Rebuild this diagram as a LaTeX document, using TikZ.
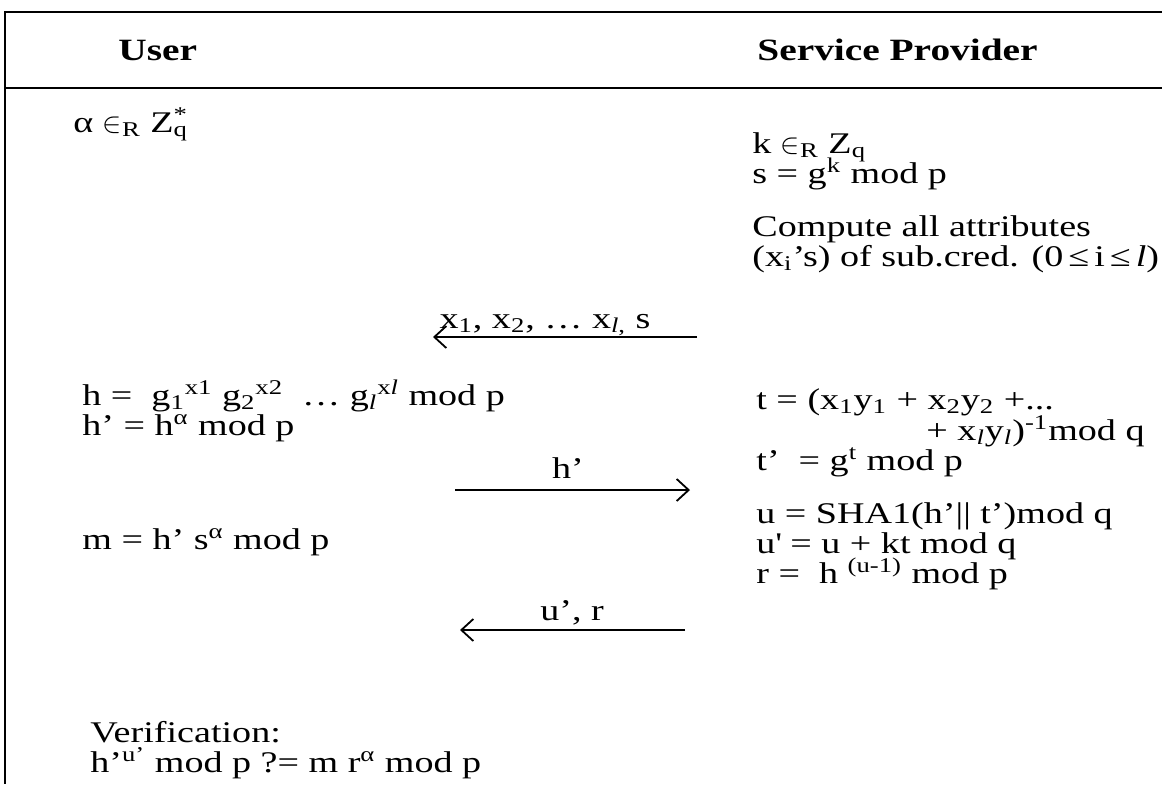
\documentclass[tikz,border=0pt]{standalone}
\usepackage{fontspec}
\setmainfont{Liberation Serif}[FakeStretch=1.27]
\usetikzlibrary{arrows.meta}
\newcommand{\up}[1]{\textsuperscript{#1}}
\newcommand{\dn}[1]{\textsubscript{#1}}
\newcommand{\supsub}[2]{\makebox[0pt][l]{\textsuperscript{#1}}\textsubscript{#2}}
\newcommand{\el}{\textit{l}}

\begin{document}
\begin{tikzpicture}[x=0.5pt,y=-0.5pt,font=\fontsize{15}{18}\selectfont,
  >={Straight Barb[length=6pt,width=11pt]},
  txt/.style={anchor=base west,inner sep=0pt},
  head/.style={txt,font=\fontsize{15.5}{18}\selectfont\bfseries},
  lbl/.style={anchor=base,inner sep=0pt},
  msg/.style={->,line width=0.9pt}]
  \useasboundingbox (0,0) rectangle (1162,784);
  % frame
  \draw[line width=1.4pt] (1162,12) -- (5,12) -- (5,784);
  \draw[line width=1.4pt] (5,88) -- (1162,88);
  \node[head] (user) at (118,60) {User};
  \node[head] (sp) at (757,60) {Service Provider};
  % user side
  \node[txt] (alpha) at (73,132) {α $\in$\dn{R} Z\supsub{*}{q}};
  \node[txt] (hdef) at (82,405) {h =\ \ g\dn{1}\up{x1} g\dn{2}\up{x2}\ \ … g\dn{\el}\up{x\el} mod p};
  \node[txt] (hpr) at (82,435) {h’ = h\up{α} mod p};
  \node[txt] (mdef) at (82,549) {m = h’ s\up{α} mod p};
  \node[txt] (verif) at (90,742) {Verification:};
  \node[txt] (check) at (90,772) {h’\up{u’} mod p ?= m r\up{α} mod p};
  % provider side
  \node[txt] (kdef) at (752,153) {k $\in$\dn{R} Z\dn{q}};
  \node[txt] (sdef) at (752,183) {s = g\up{k} mod p};
  \node[txt] (comp) at (752,236) {Compute all attributes};
  \node[txt] (attr) at (752,266) {(x\dn{i}’s) of sub.cred. (0\,≤\,i\,≤\,\el)};
  \node[txt] (tdef) at (756,409) {t = (x\dn{1}y\dn{1} + x\dn{2}y\dn{2} +...};
  \node[txt,anchor=base east] (tcont) at (1145,440) {+ x\dn{\el}y\dn{\el})\up{-1}mod q};
  \node[txt] (tpr) at (756,470) {t’\ \ = g\up{t} mod p};
  \node[txt] (udef) at (756,523) {u = SHA1(h’|| t’)mod q};
  \node[txt] (upr) at (756,553) {u\textquotesingle{} = u + kt mod q};
  \node[txt] (rdef) at (756,583) {r =\ \ h \up{(u-1)} mod p};
  % messages
  \coordinate (m1a) at (697,337);
  \coordinate (m1b) at (433,337);
  \coordinate (m2a) at (455,490);
  \coordinate (m2b) at (690,490);
  \coordinate (m3a) at (685,630);
  \coordinate (m3b) at (460,630);
  \draw[msg] (m1a) -- (m1b);
  \draw[msg] (m2a) -- (m2b);
  \draw[msg] (m3a) -- (m3b);
  \node[lbl] (m1lbl) at (545,328) {x\dn{1}, x\dn{2}, … x\dn{\el,} s};
  \node[lbl] (m2lbl) at (568,478) {h’};
  \node[lbl] (m3lbl) at (572,620) {u’, r};
\end{tikzpicture}
\end{document}
